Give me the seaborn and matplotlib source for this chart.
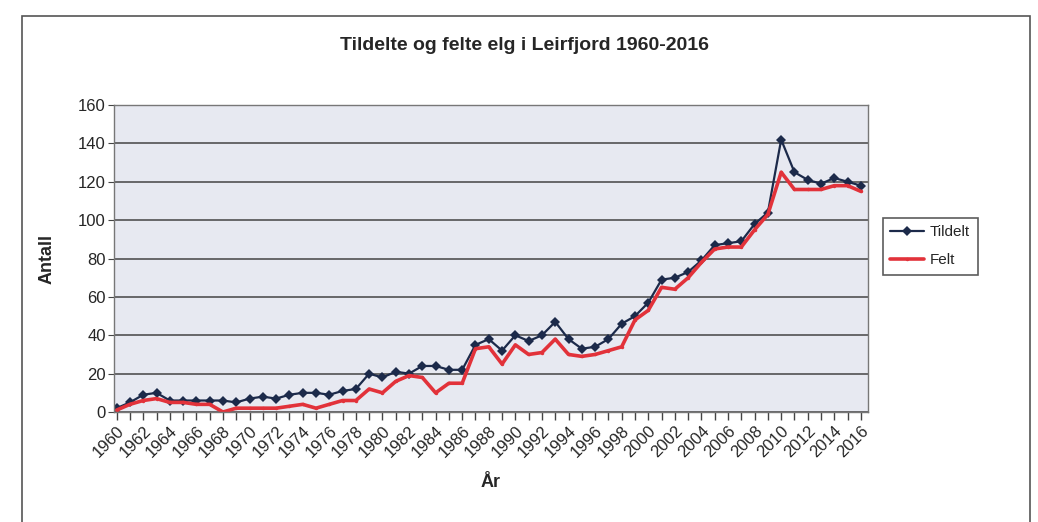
import numpy as np
import pandas as pd
import matplotlib
matplotlib.use("Agg")
import matplotlib.pyplot as plt
from matplotlib.patches import Rectangle
from matplotlib.ticker import MultipleLocator
import seaborn as sns

# data
years = list(range(1960, 2017))
tildelt = [2, 5, 9, 10, 6, 6, 6, 6, 6, 5,
           7, 8, 7, 9, 10, 10, 9, 11, 12, 20,
           18, 21, 20, 24, 24, 22, 22, 35, 38, 32,
           40, 37, 40, 47, 38, 33, 34, 38, 46, 50,
           57, 69, 70, 73, 79, 87, 88, 89, 98, 104,
           142, 125, 121, 119, 122, 120, 118]
felt = [1, 4, 6, 7, 5, 5, 4, 4, 0, 2,
        2, 2, 2, 3, 4, 2, 4, 6, 6, 12,
        10, 16, 19, 18, 10, 15, 15, 33, 34, 25,
        35, 30, 31, 38, 30, 29, 30, 32, 34, 48,
        53, 65, 64, 70, 78, 85, 86, 86, 95, 103,
        125, 116, 116, 116, 118, 118, 115]

df = pd.DataFrame({"År": years, "Tildelt": tildelt, "Felt": felt})

sns.set_style("white")
plt.rcParams['font.family'] = ['Liberation Sans', 'DejaVu Sans']

fig = plt.figure(figsize=(10.38, 5.22), dpi=100)
ax = fig.add_axes([0.1098, 0.2107, 0.726, 0.588])

# outer chart frame
fig.patches.append(Rectangle((0.021, -0.01), 0.971, 0.98, transform=fig.transFigure,
                             fill=False, edgecolor="#555555", linewidth=1.2))

ax.set_facecolor("#e7e9f1")
ax.yaxis.grid(True, color="#444444", linewidth=1.1)
ax.set_axisbelow(True)

sns.lineplot(data=df, x="År", y="Tildelt", ax=ax, color="#1c2a4a", linewidth=1.6,
             marker="D", markersize=5, markeredgewidth=0, label="Tildelt")
sns.lineplot(data=df, x="År", y="Felt", ax=ax, color="#e2323a", linewidth=2.6,
             marker="o", markersize=2.5, markeredgewidth=0, label="Felt")

ax.set_xlim(1959.8, 2016.5)
ax.set_ylim(0, 160)
ax.yaxis.set_major_locator(MultipleLocator(20))
ax.xaxis.set_major_locator(MultipleLocator(2))
ax.xaxis.set_minor_locator(MultipleLocator(1))
ax.tick_params(axis="x", which="both", direction="out", length=6, width=1, color="#444444",
               bottom=True)
ax.tick_params(axis="y", direction="out", length=4, color="#444444", left=True)
ax.tick_params(axis="both", labelsize=12, pad=2)
for lab in ax.get_xticklabels():
    lab.set_rotation(45)
    lab.set_ha("right")
    lab.set_rotation_mode("anchor")

for s in ax.spines.values():
    s.set_color("#777777")
    s.set_linewidth(1)

ax.set_xlabel("År", fontsize=13, fontweight="bold", labelpad=10)
ax.set_ylabel("Antall", fontsize=13, fontweight="bold", labelpad=16)
fig.text(0.505, 0.912, "Tildelte og felte elg i Leirfjord 1960-2016", ha="center",
         va="center", fontsize=14, fontweight="bold")

leg = ax.legend(loc="center left", bbox_to_anchor=(1.01, 0.54), frameon=True,
                fancybox=False, edgecolor="#333333", fontsize=11,
                handlelength=2.2, borderpad=0.5, labelspacing=0.9, handletextpad=0.4)
leg.get_frame().set_linewidth(1.2)

fig.savefig("out.png", dpi=100, facecolor="white")
